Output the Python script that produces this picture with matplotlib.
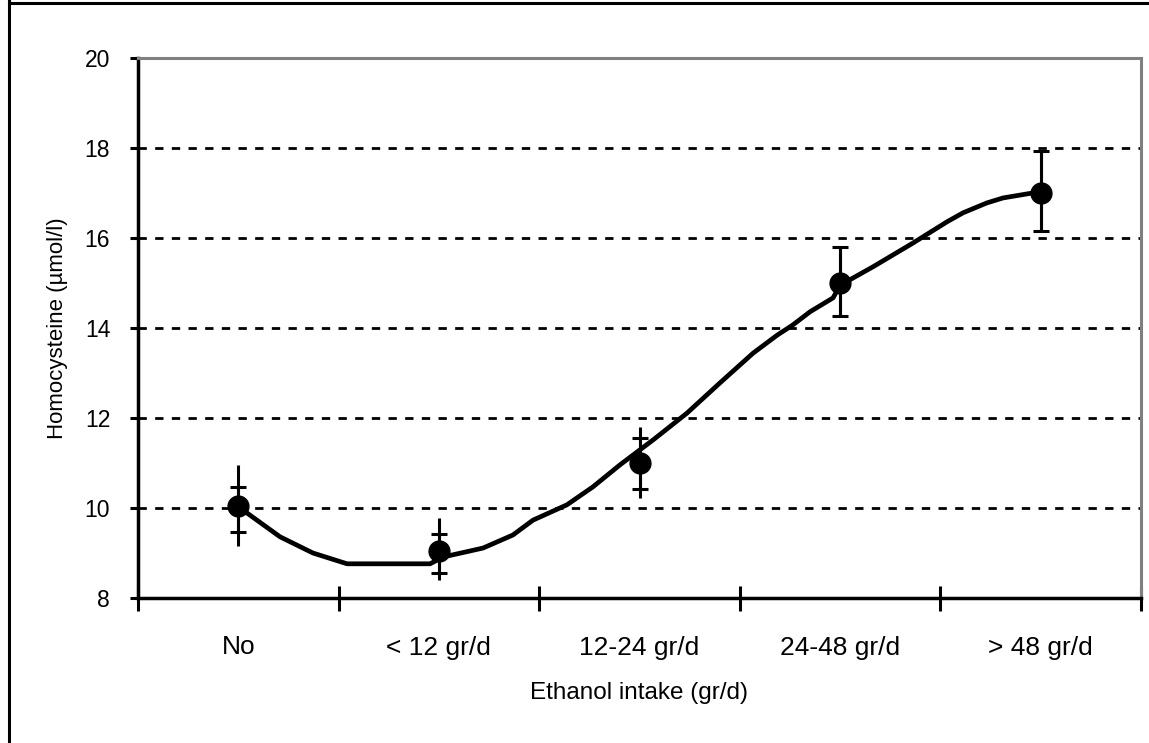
import matplotlib
matplotlib.use("Agg")
import matplotlib.pyplot as plt
from matplotlib.lines import Line2D

# ---- data ----
categories = ["No", "< 12 gr/d", "12-24 gr/d", "24-48 gr/d", "> 48 gr/d"]
means = [10.05, 9.05, 11.0, 15.0, 17.0]
bar_hi = [10.96, 9.78, 11.80, 15.80, 17.93]
bar_lo = [9.16, 8.40, 10.22, 14.27, 16.16]
cap_hi = [10.47, 9.42, 11.55, 15.80, 17.93]
cap_lo = [9.47, 8.55, 10.43, 14.27, 16.16]

# smoothed trend curve (category index, value)
curve_x = [0.0, 0.043, 0.208, 0.372, 0.542, 0.956, 1.020, 1.220, 1.369, 1.469,
           1.638, 1.768, 1.903, 2.067, 2.237, 2.401, 2.566, 2.686, 2.765, 2.850,
           2.965, 3.0, 3.164, 3.364, 3.533, 3.613, 3.732, 3.812, 3.932, 3.987]
curve_y = [10.07, 9.89, 9.36, 9.0, 8.76, 8.76, 8.91, 9.11, 9.40, 9.73,
           10.07, 10.47, 10.96, 11.51, 12.11, 12.78, 13.44, 13.84, 14.07, 14.36,
           14.67, 14.95, 15.36, 15.89, 16.36, 16.56, 16.78, 16.89, 16.98, 17.02]

y_ticks = [8, 10, 12, 14, 16, 18, 20]
grid_levels = [10, 12, 14, 16, 18]

plt.rcParams['font.family'] = ['Liberation Sans', 'DejaVu Sans']

fig = plt.figure(figsize=(11.49, 7.43), dpi=100)
ax = fig.add_axes([138/1149, 145/743, 1003/1149, 540/743])

x = list(range(len(categories)))

for g in grid_levels:
    ax.axhline(g, color='black', lw=2.0, linestyle=(0, (3.0, 3.0)), zorder=1)

ax.plot(curve_x, curve_y, color='black', lw=3.4, solid_joinstyle='round', zorder=3)

err_outer = [[m - lo for m, lo in zip(means, bar_lo)], [hi - m for m, hi in zip(means, bar_hi)]]
err_inner = [[m - lo for m, lo in zip(means, cap_lo)], [hi - m for m, hi in zip(means, cap_hi)]]
ax.errorbar(x, means, yerr=err_outer, fmt='none', ecolor='black', elinewidth=2.2, capsize=0, zorder=4)
ax.errorbar(x, means, yerr=err_inner, fmt='none', ecolor='black', elinewidth=2.2,
            capsize=6, capthick=2.2, zorder=4)
ax.plot(x, means, 'o', color='black', markersize=15, zorder=5)

ax.set_xlim(-0.5, 4.5)
ax.set_ylim(8, 20)
ax.set_yticks(y_ticks)
ax.set_yticklabels([str(v) for v in y_ticks], fontsize=16.5)
ax.set_xticks([i - 0.5 for i in range(len(categories) + 1)])
ax.set_xticklabels([])
ax.set_xticks(x, minor=True)
ax.set_xticklabels(categories, minor=True, fontsize=19)
ax.tick_params(axis='x', which='major', direction='inout', length=18, width=2.2, color='black')
ax.tick_params(axis='x', which='minor', length=0, pad=27)
ax.tick_params(axis='y', direction='out', length=6, width=2.2, pad=14)

for s in ['left', 'bottom']:
    ax.spines[s].set_color('black')
    ax.spines[s].set_linewidth(2.5)
for s in ['top', 'right']:
    ax.spines[s].set_color('#808080')
    ax.spines[s].set_linewidth(2.2)

ax.set_xlabel("Ethanol intake (gr/d)", fontsize=17.5, labelpad=16)
ax.set_ylabel("Homocysteine (µmol/l)", fontsize=16, labelpad=12)

# outer chart border
fig.add_artist(Line2D([9/1149, 9/1149], [0, 1], transform=fig.transFigure, color='black', lw=2.2))
fig.add_artist(Line2D([9/1149, 1], [1 - 3/743, 1 - 3/743], transform=fig.transFigure, color='black', lw=2.2))

fig.savefig("out.png", dpi=100)
